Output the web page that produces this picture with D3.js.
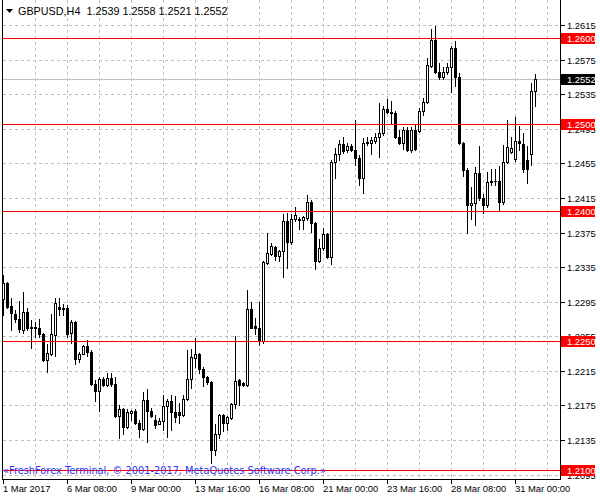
<!DOCTYPE html>
<html><head><meta charset="utf-8">
<script src="https://cdn.jsdelivr.net/npm/d3@7"></script>
<style>html,body{margin:0;padding:0;background:#fff;overflow:hidden}</style>
</head><body>
<svg id="c" width="600" height="500" xmlns="http://www.w3.org/2000/svg"></svg>
<script>
const symbol = "GBPUSD,H4";
const opens = [1.2298,1.2317,1.2290,1.2281,1.2275,1.2262,1.2283,1.2265,1.2266,1.2264,
1.2258,1.2227,1.2235,1.2257,1.2289,1.2288,1.2288,1.2259,1.2271,1.2229,
1.2235,1.2244,1.2237,1.2200,1.2192,1.2205,1.2199,1.2207,1.2200,1.2163,
1.2171,1.2150,1.2166,1.2168,1.2155,1.2148,1.2181,1.2169,1.2158,1.2154,
1.2157,1.2174,1.2180,1.2167,1.2167,1.2164,1.2182,1.2205,1.2230,1.2235,
1.2217,1.2208,1.2202,1.2123,1.2142,1.2164,1.2155,1.2161,1.2177,1.2204,
1.2201,1.2199,1.2287,1.2267,1.2265,1.2249,1.2340,1.2350,1.2358,1.2348,
1.2354,1.2388,1.2364,1.2391,1.2391,1.2389,1.2392,1.2410,1.2386,1.2342,
1.2357,1.2373,1.2347,1.2457,1.2466,1.2477,1.2470,1.2475,1.2470,1.2461,
1.2438,1.2478,1.2479,1.2481,1.2485,1.2490,1.2518,1.2514,1.2513,1.2486,
1.2478,1.2493,1.2470,1.2494,1.2492,1.2515,1.2526,1.2568,1.2598,1.2561,
1.2555,1.2561,1.2566,1.2588,1.2555,1.2479,1.2447,1.2407,1.2409,1.2444,
1.2415,1.2407,1.2433,1.2435,1.2434,1.2410,1.2456,1.2468,1.2460,1.2481,
1.2477,1.2459,1.2466,1.2539];
const highs = [1.2326,1.2318,1.2299,1.2285,1.2296,1.2306,1.2288,1.2274,1.2271,1.2275,
1.2259,1.2246,1.2281,1.2299,1.2299,1.2292,1.2291,1.2274,1.2273,1.2237,
1.2245,1.2251,1.2239,1.2204,1.2208,1.2208,1.2213,1.2212,1.2208,1.2176,
1.2172,1.2171,1.2170,1.2171,1.2158,1.2191,1.2194,1.2172,1.2164,1.2161,
1.2187,1.2182,1.2187,1.2186,1.2178,1.2187,1.2239,1.2240,1.2253,1.2236,
1.2220,1.2209,1.2203,1.2154,1.2165,1.2165,1.2163,1.2178,1.2255,1.2206,
1.2202,1.2309,1.2295,1.2276,1.2295,1.2342,1.2375,1.2363,1.2359,1.2355,
1.2396,1.2397,1.2396,1.2405,1.2393,1.2394,1.2418,1.2413,1.2387,1.2367,
1.2380,1.2375,1.2459,1.2473,1.2482,1.2486,1.2479,1.2477,1.2505,1.2465,
1.2484,1.2485,1.2486,1.2490,1.2525,1.2521,1.2529,1.2527,1.2515,1.2494,
1.2497,1.2497,1.2497,1.2499,1.2519,1.2531,1.2577,1.2610,1.2614,1.2571,
1.2567,1.2571,1.2591,1.2597,1.2559,1.2480,1.2450,1.2428,1.2451,1.2475,
1.2420,1.2445,1.2448,1.2449,1.2452,1.2476,1.2505,1.2485,1.2509,1.2498,
1.2490,1.2475,1.2548,1.2558];
const lows = [1.2280,1.2288,1.2262,1.2271,1.2260,1.2259,1.2262,1.2241,1.2254,1.2254,
1.2226,1.2214,1.2233,1.2232,1.2280,1.2280,1.2254,1.2247,1.2223,1.2225,
1.2234,1.2232,1.2199,1.2180,1.2168,1.2198,1.2198,1.2197,1.2162,1.2137,
1.2142,1.2149,1.2158,1.2153,1.2138,1.2147,1.2133,1.2162,1.2149,1.2153,
1.2147,1.2138,1.2147,1.2156,1.2155,1.2163,1.2181,1.2195,1.2220,1.2213,
1.2197,1.2200,1.2108,1.2118,1.2137,1.2145,1.2147,1.2159,1.2172,1.2176,
1.2197,1.2198,1.2264,1.2258,1.2245,1.2247,1.2338,1.2349,1.2343,1.2342,
1.2323,1.2334,1.2362,1.2388,1.2379,1.2379,1.2390,1.2376,1.2333,1.2341,
1.2355,1.2346,1.2339,1.2438,1.2459,1.2467,1.2468,1.2469,1.2453,1.2430,
1.2421,1.2476,1.2466,1.2479,1.2462,1.2488,1.2513,1.2501,1.2484,1.2477,
1.2472,1.2469,1.2468,1.2470,1.2491,1.2511,1.2525,1.2567,1.2559,1.2552,
1.2553,1.2558,1.2537,1.2544,1.2477,1.2440,1.2375,1.2391,1.2384,1.2413,
1.2397,1.2405,1.2430,1.2430,1.2401,1.2408,1.2455,1.2467,1.2458,1.2470,
1.2445,1.2432,1.2453,1.2521];
const closes = [1.2317,1.2289,1.2282,1.2275,1.2263,1.2283,1.2265,1.2266,1.2265,1.2258,
1.2228,1.2236,1.2258,1.2294,1.2287,1.2287,1.2258,1.2271,1.2229,1.2235,
1.2244,1.2237,1.2200,1.2192,1.2205,1.2199,1.2207,1.2200,1.2163,1.2171,
1.2150,1.2167,1.2168,1.2155,1.2148,1.2181,1.2169,1.2163,1.2152,1.2157,
1.2174,1.2180,1.2167,1.2162,1.2164,1.2182,1.2205,1.2231,1.2235,1.2217,
1.2208,1.2202,1.2123,1.2142,1.2164,1.2155,1.2162,1.2177,1.2203,1.2199,
1.2199,1.2287,1.2265,1.2265,1.2249,1.2341,1.2351,1.2359,1.2348,1.2354,
1.2388,1.2364,1.2391,1.2395,1.2390,1.2393,1.2410,1.2386,1.2342,1.2357,
1.2373,1.2347,1.2457,1.2466,1.2477,1.2469,1.2475,1.2470,1.2461,1.2438,
1.2479,1.2480,1.2482,1.2485,1.2490,1.2518,1.2514,1.2513,1.2486,1.2478,
1.2493,1.2470,1.2494,1.2471,1.2515,1.2526,1.2569,1.2598,1.2561,1.2555,
1.2561,1.2566,1.2588,1.2555,1.2479,1.2447,1.2407,1.2409,1.2444,1.2415,
1.2407,1.2433,1.2435,1.2434,1.2410,1.2456,1.2474,1.2473,1.2481,1.2478,
1.2449,1.2449,1.2539,1.2552];
const priceTicks = [1.2615,1.2575,1.2535,1.2495,1.2455,1.2415,1.2375,1.2335,1.2295,1.2255,1.2215,1.2175,1.2135,1.2095];
const levels = [1.2600,1.2500,1.2400,1.2250,1.2100];
const bid = 1.2552;
const dateTickIdx = [0,16,32,48,64,80,96,112,128];
const dateLabels = ["1 Mar 2017","6 Mar 08:00","9 Mar 00:00","13 Mar 16:00","16 Mar 08:00","21 Mar 00:00","23 Mar 16:00","28 Mar 08:00","31 Mar 00:00"];
const gridIdx = [8,16,24,32,40,48,56,64,72,80,88,96,104,112,120,128,136];
const watermark = "\u00abFreshForex Terminal, \u00a9 2001-2017, MetaQuotes Software Corp.\u00bb";

const N = opens.length;
const svg = d3.select("#c");
const x = d3.scaleLinear().domain([0, N - 1]).range([3, 535]);
const y = d3.scaleLinear().domain([1.2615, 1.2135]).range([25, 440]);
const px = i => Math.round(x(i));
const py = v => Math.round(y(v));
const LEFT = 2, RIGHT = 560, BOTTOM = 479;
const FONT = "'Liberation Sans', Arial, sans-serif";
const AX = 9.4;

const root = svg.append("g").attr("shape-rendering", "crispEdges");

// grid
const grid = root.append("g");
grid.selectAll("line.h").data(priceTicks).join("line")
  .attr("x1", LEFT + 1).attr("x2", RIGHT)
  .attr("y1", d => py(d) + 0.5).attr("y2", d => py(d) + 0.5)
  .attr("stroke", "#c0c0c0").attr("stroke-dasharray", "3,3");
grid.selectAll("line.v").data(gridIdx).join("line")
  .attr("x1", d => px(d) + 0.5).attr("x2", d => px(d) + 0.5)
  .attr("y1", 0).attr("y2", BOTTOM)
  .attr("stroke", "#c0c0c0").attr("stroke-dasharray", "3,3");

// bid line
root.append("rect").attr("x", LEFT + 1).attr("width", RIGHT - LEFT - 1)
  .attr("y", py(bid)).attr("height", 1).attr("fill", "#c0c0c0");

// candles
const bars = d3.range(N).map(i => ({i, o: opens[i], h: highs[i], l: lows[i], c: closes[i]}));
const cg = root.append("g").selectAll("g").data(bars).join("g");
cg.append("rect")
  .attr("x", d => px(d.i)).attr("width", 1)
  .attr("y", d => py(d.h)).attr("height", d => py(d.l) - py(d.h) + 1)
  .attr("fill", "#000");
cg.each(function(d) {
  const g = d3.select(this);
  const cx = px(d.i), yo = py(d.o), yc = py(d.c);
  if (yo === yc) {
    g.append("rect").attr("x", cx - 1).attr("width", 3)
      .attr("y", yo).attr("height", 1).attr("fill", "#000");
  } else if (d.c > d.o) {
    g.append("rect").attr("x", cx - 0.5).attr("y", yc + 0.5)
      .attr("width", 2).attr("height", yo - yc)
      .attr("fill", "#fff").attr("stroke", "#000");
  } else {
    g.append("rect").attr("x", cx - 1).attr("y", yo)
      .attr("width", 3).attr("height", yc - yo + 1).attr("fill", "#000");
  }
});

// level lines
root.append("g").selectAll("rect").data(levels).join("rect")
  .attr("x", LEFT + 1).attr("width", RIGHT - LEFT - 1)
  .attr("y", d => py(d)).attr("height", 1)
  .attr("fill", "#ff0000");

// frame
root.append("rect").attr("x", LEFT).attr("y", 0).attr("width", 1).attr("height", BOTTOM + 1).attr("fill", "#000");
root.append("rect").attr("x", RIGHT).attr("y", 0).attr("width", 1).attr("height", BOTTOM + 1).attr("fill", "#000");
root.append("rect").attr("x", LEFT).attr("y", BOTTOM).attr("width", RIGHT - LEFT + 1).attr("height", 1).attr("fill", "#000");

// right axis ticks + labels
const ra = root.append("g");
ra.selectAll("rect").data(priceTicks).join("rect")
  .attr("x", RIGHT + 1).attr("width", 4)
  .attr("y", d => py(d)).attr("height", 1).attr("fill", "#000");
ra.selectAll("text").data(priceTicks).join("text")
  .attr("x", 567).attr("y", d => py(d) + 4)
  .attr("font-family", FONT).attr("font-size", AX).attr("fill", "#000")
  .text(d => d.toFixed(4));

// level labels
const ll = root.append("g").selectAll("g").data(levels).join("g");
ll.append("rect").attr("x", RIGHT + 1).attr("y", d => py(d) - 5)
  .attr("width", 34).attr("height", 11).attr("fill", "#ff0000");
ll.append("text").attr("x", 567).attr("y", d => py(d) + 4)
  .attr("font-family", FONT).attr("font-size", AX).attr("fill", "#fff")
  .text(d => d.toFixed(4));

// bid label
root.append("rect").attr("x", RIGHT + 1).attr("y", py(bid) - 5)
  .attr("width", 34).attr("height", 11).attr("fill", "#000");
root.append("text").attr("x", 567).attr("y", py(bid) + 4)
  .attr("font-family", FONT).attr("font-size", AX).attr("fill", "#fff")
  .text(bid.toFixed(4));

// bottom axis
const ba = root.append("g");
ba.selectAll("rect").data(dateTickIdx).join("rect")
  .attr("x", d => px(d)).attr("width", 1)
  .attr("y", BOTTOM + 1).attr("height", 4).attr("fill", "#000");
ba.selectAll("text").data(dateTickIdx).join("text")
  .attr("x", d => px(d)).attr("y", 491.5)
  .attr("font-family", FONT).attr("font-size", AX).attr("fill", "#000")
  .text((d, k) => dateLabels[k]);

// title
svg.append("path").attr("d", "M6,9 L13,9 L9.5,13 Z").attr("fill", "#000");
svg.append("text").attr("x", 18).attr("y", 15)
  .attr("font-family", FONT).attr("font-size", 10.8).attr("fill", "#000")
  .attr("xml:space", "preserve").style("white-space", "pre")
  .text(symbol + "  " + [opens[N-1], highs[N-1], lows[N-1], closes[N-1]].map(v => v.toFixed(4)).join(" "));

// watermark
svg.append("text").attr("x", 3).attr("y", 474)
  .attr("font-family", "'DejaVu Sans', sans-serif").attr("font-size", 9.8)
  .attr("fill", "#3030f0").text(watermark);
</script>
</body></html>
